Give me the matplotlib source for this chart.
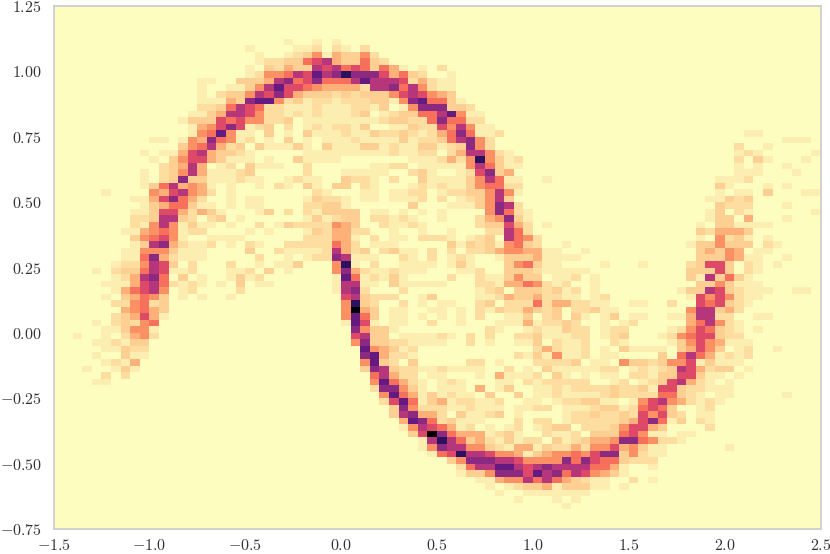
import numpy as np
import matplotlib
matplotlib.use("Agg")
import matplotlib.pyplot as plt

plt.rcParams["mathtext.fontset"] = "cm"

X_TICKS = [-1.5, -1.0, -0.5, 0.0, 0.5, 1.0, 1.5, 2.0, 2.5]
Y_TICKS = [-0.75, -0.50, -0.25, 0.00, 0.25, 0.50, 0.75, 1.00, 1.25]
N_BINS = 80
# counts that each shade code in ROWS stands for (codes 0-9, a, b, c)
SHADE_COUNTS = [0, 1, 2, 3, 5, 7, 9, 12, 15, 18, 21, 25, 30]

# histogram rows, top row first: "column:codes" starts a run of consecutive bins
ROWS = {
5: "24:1 27:1 29:1",
6: "20:1 25:11202102",
7: "21:1 24:1235143352",
8: "21:1 22:2233 26:678433632",
9: "20:1 22:3243 26:387867636410102",
10: "20:12 22:55687a89b99974632001",
11: "15:11 19:33 21:34 23:89 25:6796668a888724211",
12: "15:1 18:11 20:35 22:8 23:a 24:77 26:6544442889685211",
13: "15:1 17:2 18:33 20:5 21:8 22:7 23:9 24:7 25:4 26:3332323335787543",
14: "15:111 18:4 19:3 20:9 21:aa 23:5 24:2 25:3 26:12212223315 37:9a6631",
15: "15:223 18:6 19:8 20:7 21:6 22:2 23:2 24:11 26:121112213015 38:999332",
16: "14:11 16:3 17:4 18:88 20:7 21:5 22:22 24:1 25:2 26:1211123012 36:3366 40:8a511",
17: "13:1 14:333 17:767 20:55 22:22 24:3 26:111111112 35:3322 39:6966 43:22",
18: "14:1 15:45 17:7 18:9 19:7 20:12 22:3 24:2 26:121 29:2213 34:0 35:11322 40:7585 44:11",
19: "14:1 15:56 17:a 18:5 19:1 20:1 22:3 24:1 26:3111211322 36:3212469 43:6112 72:11",
20: "10:11 13:1 14:5 15:4 16:9 17:6 18:5 19:1 20:2 22:1 24:3 26:1 28:1112111 35:1312 39:2 40:36 42:8952 76:111",
21: "13:3 14:5 15:6 16:8 17:4 18:2 19:3 21:3 22:1 23:1 24:1 25:3 26:1 28:3111331 35:2113 39:3123 43:952 71:2 74:1",
22: "9:1 11:1 12:1 13:4 14:7 15:8 16:4 17:3 18:3 19:2 20:1 26:111111111 35:2 36:11 38:22 41:2 42:4 43:88 45:52 47:1 71:121 79:1",
23: "10:1 12:3 13:5 14:7 15:7 16:4 17:3 18:111 22:1 25:3 26:1111 37:111 40:2 41:4 42:2 43:5 44:b 45:5 46:3 47:1 48:2 71:2 73:31 78:1",
24: "11:2 12:3 13:4 14:8 15:4 17:1 18:2 20:3 21:111 26:2 33:11 35:22 38:1111 42:1 43:5 44:8 45:6 46:3 47:1 48:1 71:1 73:1 76:1",
25: "9:1 11:2 12:3 13:5 14:8 15:4 16:111 19:2 20:3 26:2 30:1111 34:1 37:2 38:3 39:1 42:1 43:2 44:7 45:9 46:3 47:4 71:111 77:1",
26: "9:1 11:2 12:3 13:9 14:3 15:3 16:111 19:2 20:1 21:1 24:1 25:2 26:1 27:1 30:3 31:2 32:2 33:1 35:2 38:3 39:1 40:111 43:3 44:5 45:8 46:6 47:1 48:1 51:1 69:111 72:2",
27: "9:1 10:3 11:6 12:8 13:4 14:5 15:4 16:1 18:1 21:1 23:2 24:1 26:3 27:1 29:3 30:3 32:2 33:1 37:1 38:2 39:1 40:2 41:1 42:1 43:3 44:5 45:6 46:6 47:2 48:2 69:31 74:1 76:1",
28: "5:1 10:5 11:4 12:7 13:8 14:5 15:4 16:2 18:1 27:2 28:1 32:1 33:1 35:1 36:1 37:2 38:2 40:1 41:2 42:2 43:3 44:3 45:5 46:8 47:5 48:1 69:1 71:11 74:3 78:11",
29: "8:11 10:4 11:7 12:9 13:6 14:4 15:2 18:1 20:11 26:1 27:3 28:2 29:2 30:1 32:11 35:111 38:2 40:2 42:1 43:2 44:3 45:5 46:8 47:3 68:11 70:323",
30: "9:1 10:3 11:4 12:6 13:6 14:3 15:1 16:1 18:1 20:1 21:1 26:2 27:2 28:3 29:3 30:1 37:3 41:1 42:1 43:1 44:3 45:5 46:9 47:8 48:2 69:3 70:222 76:1",
31: "8:11 10:3 11:77 13:4 14:2 15:4 16:3 17:1 21:1 22:3 24:2 26:2 27:1 28:3333 33:11 36:1 38:1 40:1 45:5 46:9 47:6 48:2 49:1 68:13 71:21 79:1",
32: "8:22 10:3 11:88 13:3 14:2 16:2 17:3 19:1 26:1 27:3 28:1 29:2 30:33 33:22 35:1 36:2 37:1 40:1 44:2 45:4 46:5 47:9 48:3 49:1 68:133 72:4 76:1",
33: "8:2 9:1 10:5 11:8 12:5 13:1 14:3 15:11 18:1 21:2 23:1 24:3 25:2 26:2 27:2 28:2 29:5 30:4 31:3 34:2 35:1 36:1 37:2 38:1 44:2 45:3 46:3 47:7 48:4 49:2 51:1 67:1 69:331111",
34: "7:11 9:4 10:5 11:6 12:5 13:1 14:22 20:1 22:1 26:1 27:3 28:2 29:4 30:4 31:2 32:2 35:1 38:1 41:1 45:22 47:8 48:6 49:2 67:324443",
35: "8:3 9:5 10:6 11:7 12:5 13:1 16:1111 26:2 27:2 28:2 29:4 30:4 31:1 33:2 35:11 38:222 41:1 43:1 44:2 45:3 47:8 48:6 49:5 50:2 67:1 69:5231 74:1",
36: "8:1 9:3 10:8 11:9 12:4 13:2 14:11 16:2 18:1 20:2 21:1 24:222 27:2 28:2 29:6 30:4 31:2 33:111 41:3 42:1 43:3 44:2 45:3 46:1 47:5 48:6 49:3 50:2 53:1 66:1335333 74:21",
37: "7:11 9:555 12:3 13:111 20:3 23:2 24:11 26:1 27:1 28:2 29:8 30:4 31:2 32:3 34:2 35:3 36:1 37:1 39:2 41:2 43:2 44:2 45:3 46:4 47:5 48:5 49:4 50:4 51:1 52:1 55:1 67:343 70:54 73:11",
38: "7:11 9:6 10:9 11:4 12:2 13:111 21:2 24:1 26:1 27:2 28:2 29:9 30:8 31:111 36:2 37:1 39:2 41:1 42:2 43:1 46:1 47:3 48:3 49:3 50:4 51:1 52:111 67:333 70:5411 76:1",
39: "6:122 9:5 10:8 11:7 12:3 14:2 18:2 21:1 23:1 24:1 25:3 29:5 30:b 31:1 33:2 36:1111 41:1 42:3 43:1 47:3 48:5 49:6 50:3 51:1 52:1 57:1 61:1 66:237 69:73 72:21 75:1",
40: "4:1 6:2 7:33 9:6 10:8 11:7 12:11 14:2 18:11 20:2 22:3 24:1 29:5 30:9 31:4 32:2 33:11 35:2 36:111 42:11 44:2 47:333 50:21111 55:1 66:333 69:73 72:21",
41: "6:1 7:2 8:4 9:8 10:9 11:6 13:3 15:1 18:1 19:3 20:1 21:2 29:1 30:a 31:6 32:1 33:2 34:1 35:3 36:1 41:2 44:2 45:11 47:3 48:5 49:33 52:112 56:1 66:318 69:3631",
42: "5:111 8:4 9:7 10:8 11:6 12:2 13:1 14:2 15:1 17:1 19:3 21:11 29:1 30:8 31:8 32:11 35:3 36:1111 40:1 44:22 46:1 47:4 48:4 49:6 50:5 51:2 52:12 56:1 67:335 70:3111",
43: "6:1 7:4 8:6 9:7 10:8 11:5 13:1 14:2 19:2 29:1 30:8 31:9 32:2 36:2 44:1 45:2 46:3 48:3 49:3 50:3 51:2 52:3 53:12 56:1 65:133 68:87 70:3 71:2111 77:11",
44: "5:1 7:3 8:4 9:6 10:5 11:3 13:1 15:1 18:1 30:7 31:8 32:3 33:222 38:1 39:3 44:1 45:1 46:2 47:4 48:33 50:4 51:2 52:2 53:11 56:1 57:2 66:175 69:75 71:211",
45: "6:22 8:5 9:6 10:2 11:3 30:5 31:b 32:3 33:2 36:2 38:1 40:11 44:2 45:3 47:222 50:6 51:2 52:4 53:4 54:22 56:11 60:11 64:2 67:767 70:321",
46: "7:4 8:5 9:6 10:4 11:3 30:5 31:c 32:4 33:3 35:11 39:11 42:1 44:2 45:1 46:3 47:22 49:4 50:3 51:2 52:3 54:2 55:2 56:3 57:11 66:58 68:8 69:342",
47: "6:2 7:3 8:4 9:7 10:4 11:1 30:5 31:a 32:6 33:3 35:11 38:1 40:1 42:1 44:2 47:11 49:3 51:2 52:3 54:3 55:1 57:1 58:3 60:11 64:11 66:488 69:22 73:11",
48: "4:1 6:2 7:3 8:2 9:5 10:6 30:1 31:a 32:7 33:1 35:11 39:2 42:1 46:11 48:1 49:4 50:1 51:2 52:2 53:3 54:2 57:1 59:1 60:2 66:4 67:6 68:8 69:5 70:2 71:1",
49: "5:11 7:3 8:5 9:5 10:1 31:9 32:5 33:33 35:1 45:2 46:1 49:1 50:2 51:1 52:1 53:3 54:22 57:1 58:2 59:2 64:1 65:2 66:5 67:7 68:6 69:3 70:2 71:1 73:1",
50: "2:1 5:1 7:2 8:4 9:5 10:2 31:7 32:8 33:33 36:11 38:11 40:21 43:2 45:2 48:2 49:2 50:3 51:1 52:1 53:1 54:22 57:1 58:2 59:3 63:1 64:2 65:5 66:6 67:7 68:7 69:3 70:2 71:2",
51: "4:11 6:2 7:1 8:33 31:5 32:9 33:33 35:22 37:1111 43:2 45:1 48:11 50:3 52:2 53:11 55:2 58:2 59:1 64:1 65:3 66:5 67:7 68:5 69:4 70:111",
52: "5:11 7:3 8:22 32:a 33:5 34:4 35:3 36:1 37:2 50:2 51:4 52:2 53:11 55:2 57:1 59:3 60:1111 65:3 66:4 67:7 68:5 69:3 71:1 72:2 75:1",
53: "4:1 7:3 8:11 32:9 33:a 34:4 35:22 37:1 48:2 49:1 50:3 51:1 52:5 53:11 55:2 57:11 63:3 65:6 66:8 67:6 68:4 69:1 70:2 71:1 72:2",
54: "5:1 6:2 7:1 8:4 32:5 33:a 34:3 35:2 37:3 43:22 46:1 50:2 51:2 52:2 53:2 54:3 56:11 59:5 60:3 61:3 62:2 63:3 64:5 65:5 66:7 67:1 68:3 69:1 70:11",
55: "3:1 6:1 7:3 8:1 32:3 33:9 34:8 35:3 36:22 38:11 40:2 41:1111 47:2 49:1 51:3 52:1 53:111 56:1 57:22 60:1 61:2 62:1 63:2 64:3 65:8 66:7 67:4 68:2 69:33 72:1",
56: "5:2 7:2 33:6 34:8 35:4 36:22 39:11 44:1 46:4 47:111 50:2 52:3 53:1 55:1 57:11 60:22 62:1 63:3 64:3 65:7 66:7 67:3 68:11 71:1",
57: "4:11 33:5 34:a 35:6 36:4 37:2 38:1 40:1 41:2 42:1 46:11 49:2 50:1 51:2 52:2 53:222 58:1 59:2 61:1 62:2 63:3 64:7 65:8 66:4 67:2 68:1 70:1",
58: "33:2 34:9 35:9 36:5 37:3 38:1 40:111 44:4 46:1 47:3 50:11 52:2 53:12222 58:3 59:2 60:2 61:3 62:1 63:7 64:7 65:3 66:2 67:2 68:111",
59: "34:5 35:a 36:6 37:4 38:1 39:3 40:1 41:2 42:11 45:3 48:3 50:11 52:2 53:1111 57:2 58:3 59:2 60:2 61:2 62:2 63:6 64:6 65:3 66:2 67:1 69:11 76:1",
60: "34:2 35:7 36:a 37:6 38:1 39:3 40:4 41:1 42:22 44:11 46:2 49:11 52:1 53:2 54:2 55:33 57:11 60:1 61:5 62:7 63:8 64:5 65:4 66:2 67:1 68:2 69:1",
61: "35:3 36:9 37:5 38:222 41:11 43:2 44:111 48:11 50:22 53:111 56:2 57:33 59:1 60:2 61:6 62:7 63:6 64:3 67:1 68:2",
62: "35:3 36:8 37:9 38:44 40:2 42:3 43:1 44:1 45:2 46:3 48:1 53:1 54:22 56:3 57:22 59:3 60:2 61:7 62:5 63:7 64:3 65:2 67:11",
63: "36:4 37:a 38:9 39:6 40:2 41:3 42:111 48:2 50:2 51:2 53:1 54:22 56:2 57:22 59:3 60:4 61:7 62:9 63:6 64:1 65:3 67:2 68:1",
64: "36:1 37:5 38:8 39:7 40:6 41:4 42:1 43:2 45:1 47:1 48:2 50:12 52:33 55:222 58:3 59:5 60:77 62:4 63:3 68:2",
65: "37:3 38:7 39:c 40:9 41:6 42:444 45:1 46:2 47:3 48:1 51:2 52:1 53:1 54:2 56:333 59:6 60:7 61:5 62:11 65:11",
66: "38:1 39:8 40:b 41:8 42:6 43:3 44:4 45:2 46:1 47:3 48:1 49:22 52:3 53:1 54:2 55:3 56:44 58:5 59:9 60:9 61:6 62:5 63:22 65:1",
67: "38:1 39:5 40:9 41:8 42:8 43:55 45:3 46:2 47:1 48:44 50:1 51:3 52:2 53:2 54:4 55:2 56:55 58:7 59:4 60:5 61:3 62:11 70:1",
68: "39:1 40:6 41:7 42:b 43:8 44:8 45:7 46:5 47:5 48:4 49:1 50:3 51:4 52:5 53:5 54:6 55:5 56:7 57:99 59:3 60:5 61:2 62:11",
69: "41:3 42:5 43:9 44:9 45:9 46:8 47:8 48:7 49:5 50:5 51:5 52:5 53:9 54:6 55:9 56:7 57:66 59:3 60:2 61:22",
70: "42:2 43:6 44:8 45:8 46:a 47:a 48:8 49:7 50:8 51:9 52:8 53:8 54:8 55:8 56:6 57:6 58:4 59:1 62:1",
71: "42:1 43:33 45:5 46:9 47:9 48:9 49:7 50:a 51:8 52:9 53:6 54:8 55:7 56:5 57:4 58:3 59:1",
72: "44:11 46:4 47:5 48:5 49:8 50:6 51:8 52:6 53:4 54:3 55:2 56:11 60:2 62:1",
73: "45:1 47:1 48:2 49:33 51:4 52:1 53:333 56:11 59:1",
74: "46:1 49:1111 53:111",
75: "48:1 52:1 54:1",
76: "53:1",
}

counts = np.zeros((N_BINS, N_BINS))
for row, text in ROWS.items():
    for token in text.split():
        col, codes = token.split(":")
        for k, code in enumerate(codes):
            counts[row, int(col) + k] = SHADE_COUNTS[int(code, 16)]

fig = plt.figure(figsize=(8.30, 5.54), dpi=100)
ax = fig.add_axes([53.5 / 830, 1 - 529 / 554, (820.5 - 53.5) / 830, (529 - 6) / 554])
x_edges = np.linspace(X_TICKS[0], X_TICKS[-1], N_BINS + 1)
y_edges = np.linspace(Y_TICKS[-1], Y_TICKS[0], N_BINS + 1)
ax.pcolormesh(x_edges, y_edges, counts, cmap="magma_r", vmin=0, vmax=30, shading="flat")
ax.set_xlim(X_TICKS[0], X_TICKS[-1])
ax.set_ylim(Y_TICKS[0], Y_TICKS[-1])
ax.set_xticks(X_TICKS)
ax.set_yticks(Y_TICKS)
ax.set_xticklabels([f"${v:.1f}$" for v in X_TICKS], fontsize=11.5, color="#333333")
ax.set_yticklabels([f"${v:.2f}$" for v in Y_TICKS], fontsize=11.5, color="#333333")
ax.tick_params(axis="x", length=0, pad=6.5)
ax.tick_params(axis="y", length=0, pad=8.5)
for s in ax.spines.values():
    s.set_color("#cccccc")
    s.set_linewidth(1.25)
fig.savefig("out.png", dpi=100)
